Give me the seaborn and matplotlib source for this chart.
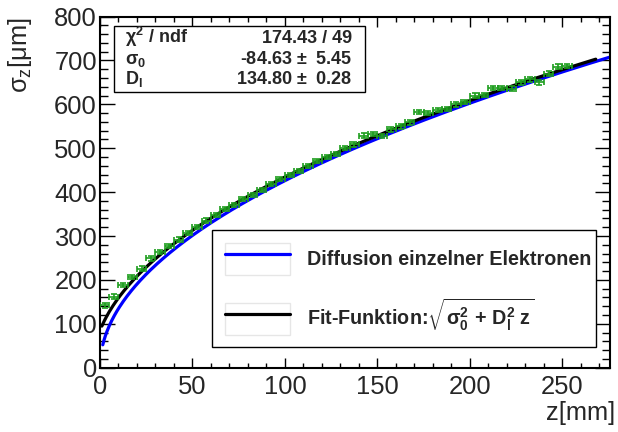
import numpy as np
import matplotlib
matplotlib.use("Agg")
import matplotlib.pyplot as plt
import seaborn as sns
from matplotlib.patches import Rectangle

# measured drift data (bin centre in mm, width in sigma_z in um)
z_mm = [2.5, 7.5, 12.5, 17.5, 22.5, 27.5, 32.5, 37.5, 42.5, 47.5,
        52.5, 57.5, 62.5, 67.5, 72.5, 77.5, 82.5, 87.5, 92.5, 97.5,
        102.5, 107.5, 112.5, 117.5, 122.5, 127.5, 132.5, 137.5, 142.5, 147.5,
        152.5, 157.5, 162.5, 167.5, 172.5, 177.5, 182.5, 187.5, 192.5, 197.5,
        202.5, 207.5, 212.5, 217.5, 222.5, 227.5, 232.5, 237.5, 242.5, 247.5,
        252.5]
sigma_z = [142, 162, 188, 207, 226, 249, 263, 277, 292, 307,
           320, 335, 348, 361, 371, 384, 393, 405, 418, 430,
           439, 448, 460, 471, 480, 487, 500, 509, 529, 532,
           528, 543, 550, 559, 582, 581, 587, 590, 600, 606,
           620, 622, 638, 638, 636, 650, 657, 650, 670, 686,
           688]
sigma_err = [5] * len(z_mm)
z_halfwidth = [2.5] * len(z_mm)

# fit result from the stats box
chi2, ndf = 174.43, 49
sigma0, sigma0_err = -84.63, 5.45
d_l, d_l_err = 134.80, 0.28

sns.set_style("ticks")
plt.rcParams["font.family"] = ["Liberation Sans", "DejaVu Sans"]
plt.rcParams["mathtext.fontset"] = "custom"
plt.rcParams["mathtext.rm"] = "Liberation Sans"
plt.rcParams["mathtext.it"] = "Liberation Sans"
plt.rcParams["mathtext.bf"] = "Liberation Sans:bold"
plt.rcParams["mathtext.default"] = "regular"

W, H = 618, 432


def fx(x):
    return x / W


def fy(y):
    return 1 - y / H


fig = plt.figure(figsize=(W / 100, H / 100), dpi=100)
ax = fig.add_axes([fx(100), fy(367.7), (610 - 100) / W, (367.7 - 16.6) / H])

# curves: single-electron diffusion and the fit function (z in cm inside sqrt)
z_blue = np.linspace(1.5, 280, 400)
z_black = np.linspace(1.0, 268, 400)
sns.lineplot(x=z_blue, y=np.sqrt(d_l**2 * z_blue / 10), color="#0000ff",
             linewidth=2.3, ax=ax, label="Diffusion einzelner Elektronen")
sns.lineplot(x=z_black, y=np.sqrt(sigma0**2 + d_l**2 * z_black / 10), color="black",
             linewidth=2.3, ax=ax,
             label=r"Fit-Funktion:$\sqrt{\sigma_0^2\,+\,D_l^2\ z}$")

ax.errorbar(z_mm, sigma_z, xerr=z_halfwidth, yerr=sigma_err, fmt="none",
            ecolor="#1e9e1e", elinewidth=1.2, capsize=2.5, capthick=1.2, zorder=3)

ax.set_xlim(0, 275.7)
ax.set_ylim(0, 800)
ax.set_xticks(np.arange(0, 251, 50))
ax.set_xticks(np.arange(0, 276, 10), minor=True)
ax.set_yticks(np.arange(0, 801, 100))
ax.set_yticks(np.arange(0, 801, 20), minor=True)
ax.tick_params(which="both", direction="in", top=True, right=True,
               labelsize=18.4, width=1.0, color="black")
ax.tick_params(axis="x", which="major", length=7.5, pad=5.5)
ax.tick_params(axis="x", which="minor", length=3.7)
ax.tick_params(axis="y", which="major", length=11, pad=2.2)
ax.tick_params(axis="y", which="minor", length=5.8)
for sp in ax.spines.values():
    sp.set_linewidth(1.5)
    sp.set_color("black")

fig.text(fx(20), fy(17), r"$\sigma_z$[$\mu$m]", rotation=90, ha="center", va="top",
         fontsize=18.4)
fig.text(fx(615), fy(401), "z[mm]", ha="right", va="top", fontsize=18.4)

# stats box
fig.patches.append(Rectangle((fx(114), fy(92)), (365 - 114) / W, (92 - 26) / H,
                             transform=fig.transFigure, facecolor="white",
                             edgecolor="black", linewidth=1.0, zorder=5))
rows = [(r"$\chi^2$ / ndf", f"{chi2:.2f} / {ndf}", 43),
        (r"$\sigma_0$", f"{sigma0:.2f} $\\pm$  {sigma0_err:.2f}", 64),
        (r"$D_l$", f"{d_l:.2f} $\\pm$  {d_l_err:.2f}", 84)]
for name, val, yb in rows:
    fig.text(fx(125), fy(yb), name, ha="left", va="baseline", fontsize=13,
             fontweight="bold", zorder=6)
    fig.text(fx(352), fy(yb), val, ha="right", va="baseline", fontsize=13,
             fontweight="bold", zorder=6)

# legend with faint boxes round the line samples
handles, labels = ax.get_legend_handles_labels()
handles = [(Rectangle((0, 0), 1, 1, facecolor="white", edgecolor="#e6e6e6", linewidth=1.0), h)
           for h in handles]
leg = ax.legend(handles, labels, loc="upper left",
                bbox_to_anchor=(fx(212), fy(348), (596 - 212) / W, (348 - 230) / H),
                bbox_transform=fig.transFigure, mode="expand", borderaxespad=0,
                frameon=True, fancybox=False, edgecolor="black", framealpha=1,
                prop={"weight": "bold", "size": 14.2}, handlelength=3.3,
                handleheight=2.1, labelspacing=1.1, borderpad=0.65, handletextpad=0.85)
leg.get_frame().set_linewidth(1.0)

fig.savefig("out.png", dpi=100)
